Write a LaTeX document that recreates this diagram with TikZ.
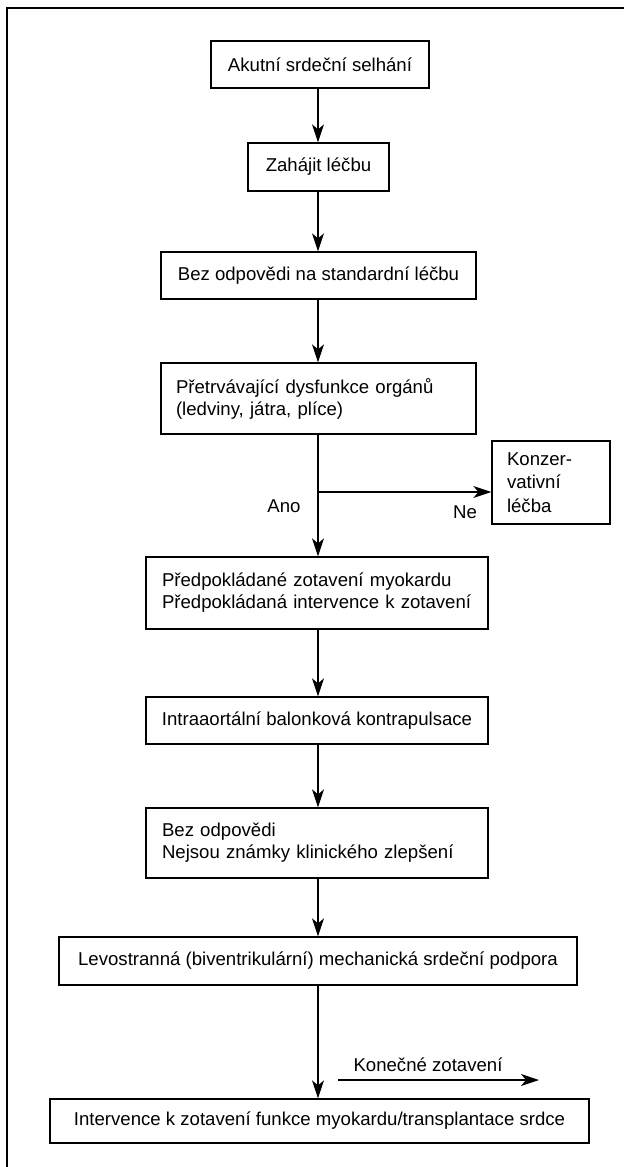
\documentclass[tikz,border=0pt]{standalone}
\usepackage{fontspec}
\setmainfont{Liberation Sans}
\usetikzlibrary{arrows.meta}
\begin{document}
\begin{tikzpicture}[x=1pt,y=-1pt,
  box/.style={draw, line width=1.3pt, rectangle, inner sep=0pt,
    font=\fontsize{18.6}{22}\selectfont},
  cbox/.style={box, align=center},
  lbox/.style={box, align=left},
  arr/.style={line width=1.2pt, -{Stealth[length=18pt,width=12pt,inset=5pt]}},
  lbl/.style={font=\fontsize{18.6}{22}\selectfont, inner sep=0pt}]
\useasboundingbox (0,0) rectangle (624,1167);
% frame on the left and top
\draw[line width=1.4pt] (7,1167) -- (7,8) -- (624,8);

\node[cbox, minimum width=218, minimum height=47] (a) at (320,64.5) {Akutní srdeční selhání};
\node[cbox, minimum width=141, minimum height=48] (b) at (318.5,167) {Zahájit léčbu};
\node[cbox, minimum width=315, minimum height=47] (c) at (318.5,275.5) {Bez odpovědi na standardní léčbu};
\node[lbox, minimum width=315, minimum height=71, text width=285] (d) at (318.5,398.5)
  {Přetrvávající dysfunkce orgánů\\(ledviny, játra, plíce)};
\node[box, align=left, minimum width=118, minimum height=83, text width=88,
  font=\fontsize{18.6}{23.5}\selectfont] (k) at (551,482.5) {Konzer-\\vativní\\léčba};
\node[lbox, minimum width=342, minimum height=72, text width=310] (e) at (317,593)
  {Předpokládané zotavení myokardu\\Předpokládaná intervence k zotavení};
\node[cbox, minimum width=342, minimum height=47] (f) at (317,720.5) {Intraaortální balonková kontrapulsace};
\node[lbox, minimum width=342, minimum height=70, text width=310] (g) at (317,843)
  {Bez odpovědi\\Nejsou známky klinického zlepšení};
\node[cbox, minimum width=518, minimum height=48] (h) at (318,961)
  {Levostranná (biventrikulární) mechanická srdeční podpora};
\node[cbox, minimum width=539, minimum height=44] (i) at (319.5,1121)
  {Intervence k zotavení funkce myokardu/transplantace srdce};

% vertical flow
\coordinate (ax) at (318,0);
\draw[arr] (a.south -| ax) -- (b.north -| ax);
\draw[arr] (b.south -| ax) -- (c.north -| ax);
\draw[arr] (c.south -| ax) -- (d.north -| ax);
\draw[arr] (d.south -| ax) -- (e.north -| ax);
\draw[arr] (e.south -| ax) -- (f.north -| ax);
\draw[arr] (f.south -| ax) -- (g.north -| ax);
\draw[arr] (g.south -| ax) -- (h.north -| ax);
\draw[arr] (h.south -| ax) -- (i.north -| ax);

% branch to conservative treatment
\coordinate (j) at (318,492);
\draw[arr] (j) -- (j -| k.west);
\node[lbl] (ano) at (284,506) {Ano};
\node[lbl] (ne) at (465,512) {Ne};

% final recovery
\coordinate (r1) at (338,1080);
\coordinate (r2) at (539,1080);
\draw[arr] (r1) -- (r2);
\node[lbl] (rec) at (428,1065) {Konečné zotavení};
\end{tikzpicture}
\end{document}
